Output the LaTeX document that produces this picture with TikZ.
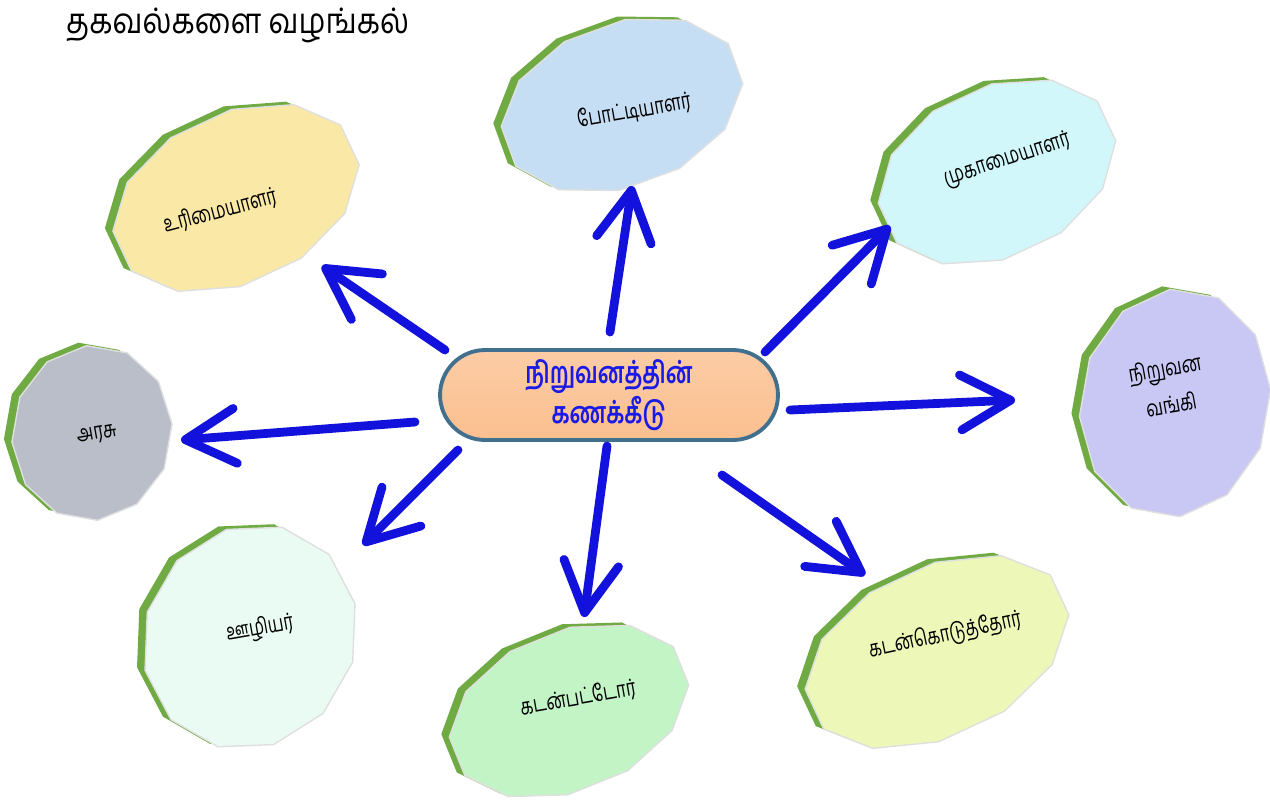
\documentclass[tikz,border=0pt]{standalone}
\usepackage{fontspec}
\newfontfamily\tamil[Script=Tamil, FakeStretch=0.86]{Hind Madurai}
\newfontfamily\tamilnarrow[Script=Tamil, FakeStretch=0.74]{Hind Madurai}
\usetikzlibrary{arrows.meta}
\definecolor{rimgreen}{HTML}{6FAA42}
\definecolor{arrowblue}{HTML}{1212DC}
\definecolor{hubfill}{HTML}{FBBF8F}
\definecolor{hubedge}{HTML}{41708F}
\definecolor{hubtext}{HTML}{1A1AE6}
\definecolor{ownerfill}{HTML}{FAE9A6}
\definecolor{compfill}{HTML}{C6DEF4}
\definecolor{mgrfill}{HTML}{D2F7FA}
\definecolor{bankfill}{HTML}{C9C8F4}
\definecolor{credfill}{HTML}{EDF8B8}
\definecolor{debtfill}{HTML}{C3F4C6}
\definecolor{emplfill}{HTML}{EAFBF4}
\definecolor{govfill}{HTML}{B9BEC9}
\begin{document}
\begin{tikzpicture}[x=0.02cm,y=-0.02cm,
	link/.style={draw=arrowblue, line width=5pt, line cap=round, -{Straight Barb[length=1cm,width=1.1cm,round]}},
	rim/.style={fill=rimgreen},
	face/.style={draw=white!75!gray, line width=0.8pt},
	plattertext/.style={font=\tamilnarrow\fontsize{13}{21}\selectfont, align=center, inner sep=0pt}]
	\useasboundingbox (0,0) rectangle (1270,802);
	\node[anchor=west, font=\tamil\fontsize{20}{24}\selectfont] (title) at (60,25) {தகவல்களை வழங்கல்};
	% platters
	\foreach \nm/\cx/\cy/\ra/\rb/\rot/\col/\tx/\ty/\trot/\txt in {
		owner/236/198/130/85/25/ownerfill/220/211/15/{உரிமையாளர்},
		comp/622/105/125/82/20/compfill/634/111/10/{போட்டியாளர்},
		mgr/997/172/125/85/25/mgrfill/1007/160/18/{முகாமையாளர்},
		bank/1175/403/115/95/80/bankfill/1168/386/10/{நிறுவன\\வங்கி},
		cred/937/652/140/85/25/credfill/945/635/12/{கடன்கொடுத்தோர்},
		debt/569/711/125/80/22/debtfill/578/698/10/{கடன்பட்டோர்},
		empl/250/637/115/105/60/emplfill/260/629/10/{ஊழியர்},
		gov/92/433/88/80/80/govfill/97/435/10/{அரசு}}{
		\fill[rim, shift={(\cx-8,\cy-3)}, rotate=\rot] (xyz polar cs:angle=15,x radius=\ra,y radius=\rb)
			\foreach \k in {45,75,...,345}{ -- (xyz polar cs:angle=\k,x radius=\ra,y radius=\rb)} -- cycle;
		\filldraw[face, fill=\col, shift={(\cx,\cy)}, rotate=\rot] (xyz polar cs:angle=15,x radius=\ra,y radius=\rb)
			\foreach \k in {45,75,...,345}{ -- (xyz polar cs:angle=\k,x radius=\ra,y radius=\rb)} -- cycle;
		\node[plattertext, rotate=\trot] (\nm) at (\tx,\ty) {\txt};
	}
	% centre
	\node[draw=hubedge, line width=2.2pt, top color=hubfill!80!white, bottom color=hubfill, rounded corners=0.9cm,
		minimum width=6.76cm, minimum height=1.8cm, align=center, text=hubtext,
		font=\tamilnarrow\bfseries\fontsize{17}{23}\selectfont] (hub) at (609,395) {நிறுவனத்தின்\\கணக்கீடு};
	% arrows
	\foreach \nm/\sx/\sy/\ex/\ey in {owner/445/350/322/266, comp/610/332/632/186, mgr/765/352/890/226, bank/790/410/1015/400,
		cred/722/475/865/575, debt/607/446/584/617, empl/458/450/363/545, gov/415/422/181/440}{
		\coordinate (\nm-from) at (\sx,\sy); \coordinate (\nm-to) at (\ex,\ey);
		\draw[link] (\nm-from) -- (\nm-to);
	}
\end{tikzpicture}
\end{document}
